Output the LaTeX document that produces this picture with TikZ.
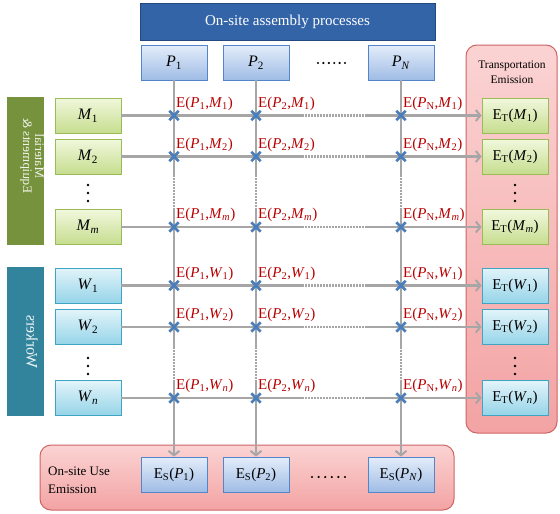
\documentclass[tikz,border=0pt]{standalone}
\usepackage{fontspec}
\setmainfont{Liberation Serif}
\usepackage{graphicx}
\usetikzlibrary{arrows.meta,shapes.misc}

\definecolor{barblue}{HTML}{3464A8}
\definecolor{baredge}{HTML}{24487E}
\definecolor{ptop}{HTML}{E4EDFA}
\definecolor{pbot}{HTML}{9FBCE5}
\definecolor{pedge}{HTML}{5285CA}
\definecolor{mtop}{HTML}{F1F8DD}
\definecolor{mbot}{HTML}{C6DD8E}
\definecolor{medge}{HTML}{9BBB59}
\definecolor{wtop}{HTML}{E2F4FA}
\definecolor{wbot}{HTML}{95D4E8}
\definecolor{wedge}{HTML}{40A4C4}
\definecolor{matgreen}{HTML}{76923C}
\definecolor{workteal}{HTML}{31849B}
\definecolor{pinktop}{HTML}{FBD3D3}
\definecolor{pinkbot}{HTML}{F3A3A3}
\definecolor{pinkedge}{HTML}{CF6464}
\definecolor{linegray}{HTML}{A6A6A6}
\definecolor{markblue}{HTML}{4A7EBB}
\definecolor{labelred}{HTML}{B80000}

% italic symbol with upright subscript
\newcommand{\sym}[2]{\textit{#1}\textsubscript{#2}}
% text flipped top to bottom (used for the sideways bar captions)
\newcommand{\flipped}[1]{\scalebox{1}[-1]{#1}}

\begin{document}
\begin{tikzpicture}[x=1pt, y=-1pt,
  box/.style={rectangle, minimum width=66pt, minimum height=35pt, inner sep=0pt,
              line width=0.8pt, font=\fontsize{16}{18}\selectfont},
  pbox/.style={box, draw=pedge, top color=ptop, bottom color=pbot},
  mbox/.style={box, draw=medge, top color=mtop, bottom color=mbot},
  wbox/.style={box, draw=wedge, top color=wtop, bottom color=wbot},
  outbox/.style={font=\fontsize{15}{17}\selectfont},
  panel/.style={rectangle, rounded corners=11pt, draw=pinkedge, line width=1pt,
                top color=pinktop, bottom color=pinkbot, inner sep=0pt},
  sidebar/.style={rectangle, minimum width=37pt, inner sep=0pt},
  conn/.style={draw=linegray, line width=2.6pt},
  gapline/.style={conn, dash pattern=on 1.6pt off 1.4pt},
  tip/.style={conn, -{Straight Barb[length=4.5pt, width=11pt, line width=2pt]}},
  xmark/.style={cross out, draw=markblue, line width=2.8pt, minimum size=6.5pt, inner sep=0pt},
  elabel/.style={text=labelred, font=\fontsize{15}{17}\selectfont, anchor=base west,
                 inner sep=0pt, xshift=2pt, yshift=8.5pt}
]
\useasboundingbox (0,0) rectangle (560,514);

% emission panels
\node[panel, minimum width=91pt, minimum height=388pt] (tpanel) at (511.5,239) {};
\node[panel, minimum width=414pt, minimum height=65pt] (spanel) at (247,477.5) {};
\node[font=\fontsize{11.5}{15}\selectfont, align=center] (ttitle) at (512,72) {Transportation\\Emission};
\node[font=\fontsize{13}{18}\selectfont, align=left, anchor=west, inner sep=0pt] (stitle) at (48,480) {On-site Use\\Emission};

% header and process boxes
\node[rectangle, fill=barblue, draw=baredge, line width=1pt, minimum width=295pt, minimum height=37pt,
      text=white, font=\fontsize{15}{17}\selectfont] (head) at (287.5,21.5) {On-site assembly processes};
\node[pbox] (p1) at (174,62.5) {\sym{P}{1}};
\node[pbox] (p2) at (256,62.5) {\sym{P}{2}};
\node[pbox] (pn) at (401,62.5) {\sym{P}{\textit{N}}};

% side category bars
\node[sidebar, fill=matgreen, minimum height=148pt] (matbar) at (25.5,171) {};
\node[sidebar, fill=workteal, minimum height=149pt] (workbar) at (25.5,341.5) {};
\node[rotate=90, text=white!90!matgreen, inner sep=0pt,
      font=\fontsize{13}{11}\selectfont] (mattext) at (32,156)
      {\flipped{\begin{tabular}{@{}c@{}}Material\\Equipments \&\end{tabular}}};
\node[rotate=90, text=white!90!workteal, inner sep=0pt,
      font=\fontsize{16}{18}\selectfont] (worktext) at (32,342) {\flipped{Workers}};

% resource boxes
\node[mbox] (m1) at (88,115.5) {\sym{M}{1}};
\node[mbox] (m2) at (88,156.5) {\sym{M}{2}};
\node[mbox] (mm) at (88,227) {\sym{M}{\textit{m}}};
\node[wbox] (w1) at (88,285.5) {\sym{W}{1}};
\node[wbox] (w2) at (88,327) {\sym{W}{2}};
\node[wbox] (wn) at (88,398) {\sym{W}{\textit{n}}};

% transportation emission boxes
\node[mbox, outbox] (tm1) at (515,115.5) {E\textsubscript{T}(\sym{M}{1})};
\node[mbox, outbox] (tm2) at (515,156.5) {E\textsubscript{T}(\sym{M}{2})};
\node[mbox, outbox] (tmm) at (515,227) {E\textsubscript{T}(\sym{M}{\textit{m}})};
\node[wbox, outbox] (tw1) at (515,285.5) {E\textsubscript{T}(\sym{W}{1})};
\node[wbox, outbox] (tw2) at (515,327) {E\textsubscript{T}(\sym{W}{2})};
\node[wbox, outbox] (twn) at (515,398) {E\textsubscript{T}(\sym{W}{\textit{n}})};

% on-site use emission boxes
\node[pbox, outbox] (es1) at (174,474.5) {E\textsubscript{S}(\sym{P}{1})};
\node[pbox, outbox] (es2) at (256,474.5) {E\textsubscript{S}(\sym{P}{2})};
\node[pbox, outbox] (esn) at (401,474.5) {E\textsubscript{S}(\sym{P}{\textit{N}})};

% ellipsis dots
\foreach \i in {0,...,5} {
  \fill ({318+\i*5.4},63) circle (1.2pt);
  \fill ({312+\i*6.6},477) circle (1.2pt);
}
\foreach \xx in {88,515} {
  \foreach \yy in {185,193,201,358,366,374} {
    \fill (\xx,\yy) circle (1.4pt);
  }
}

% break points of the dotted stretches
\coordinate (hd1) at (302,0);
\coordinate (hd2) at (365,0);
\coordinate (vd1) at (0,175);
\coordinate (vd2) at (0,208);
\coordinate (vd3) at (0,347);
\coordinate (vd4) at (0,380);

% process columns
\foreach \c/\e in {p1/es1,p2/es2,pn/esn} {
  \draw[conn] (\c.south) -- (\c.south |- vd1);
  \draw[gapline] (\c.south |- vd1) -- (\c.south |- vd2);
  \draw[conn] (\c.south |- vd2) -- (\c.south |- vd3);
  \draw[gapline] (\c.south |- vd3) -- (\c.south |- vd4);
  \draw[tip] (\c.south |- vd4) -- (\e.north);
}

% resource rows
\foreach \r/\t in {m1/tm1,m2/tm2,mm/tmm,w1/tw1,w2/tw2,wn/twn} {
  \draw[conn] (\r.east) -- (\r.east -| hd1);
  \draw[gapline] (\r.east -| hd1) -- (\r.east -| hd2);
  \draw[tip] (\r.east -| hd2) -- (\t.west);
}

% crossing marks and emission labels
\foreach \c/\cs in {p1/1,p2/2,pn/N} {
  \foreach \r/\rs in {m1/{\sym{M}{1}},m2/{\sym{M}{2}},mm/{\sym{M}{\textit{m}}},
                      w1/{\sym{W}{1}},w2/{\sym{W}{2}},wn/{\sym{W}{\textit{n}}}} {
    \node[xmark] (x\c\r) at (\c |- \r) {};
    \node[elabel] (e\c\r) at (\c |- \r) {E(\sym{P}{\cs},\rs)};
  }
}
\end{tikzpicture}
\end{document}
